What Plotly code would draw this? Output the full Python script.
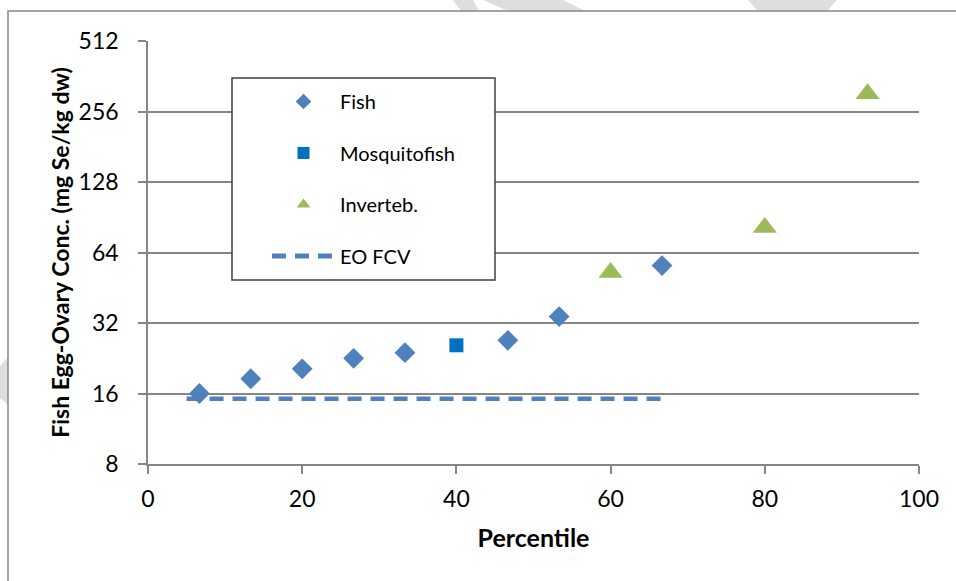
import plotly.graph_objects as go

# Data
fish_x = [6.67, 13.33, 20.0, 26.67, 33.33, 46.67, 53.33, 66.67]
fish_y = [16.0, 18.5, 20.4, 22.6, 23.9, 27.0, 34.1, 56.3]
mosq_x = [40.0]
mosq_y = [25.7]
inv_x = [60.0, 80.0, 93.33]
inv_y = [52.6, 81.9, 305.0]
fcv_x = [5.0, 66.67]
fcv_y = [15.2, 15.2]
y_ticks = [8, 16, 32, 64, 128, 256, 512]
x_ticks = [0, 20, 40, 60, 80, 100]

FONT = "Lato"
W, H = 956, 581
L, R, T, B = 148, 37, 41, 117
pw, ph = W - L - R, H - T - B

def px(xp):
    return (xp - L) / pw

def py(yp):
    return (H - B - yp) / ph

def poly(pts):
    d = "M " + " L ".join(f"{px(a):.5f},{py(b):.5f}" for a, b in pts) + " Z"
    return dict(type="path", xref="paper", yref="paper", path=d,
                fillcolor="#DEDEDE", line=dict(width=0), layer="below")

fig = go.Figure()
fig.add_trace(go.Scatter(x=fish_x, y=fish_y, mode="markers", name="Fish", legendgroup="a",
                         marker=dict(symbol="diamond", size=16, color="#4F81BD")))
fig.add_trace(go.Scatter(x=mosq_x, y=mosq_y, mode="markers", name="Mosquitofish", legendgroup="b",
                         marker=dict(symbol="square", size=14, color="#0070C0")))
fig.add_trace(go.Scatter(x=inv_x, y=inv_y, mode="markers", name="Inverteb.", legendgroup="c",
                         marker=dict(symbol="triangle-up", size=21, color="#9BBB59")))
fig.add_trace(go.Scatter(x=fcv_x, y=fcv_y, mode="lines", name="EO FCV", legendgroup="d",
                         line=dict(color="#4F81BD", width=4.5, dash="14px,9px")))

fig.update_layout(
    width=W, height=H,
    margin=dict(l=L, r=R, t=T, b=B),
    paper_bgcolor="white", plot_bgcolor="white",
    font=dict(family=FONT, size=23, color="#000000"),
    showlegend=True,
    legend=dict(x=px(267), y=py(82), xanchor="left", yanchor="top",
                bgcolor="rgba(0,0,0,0)", borderwidth=0,
                font=dict(family=FONT, size=20, color="#000000"),
                tracegroupgap=22.5, itemsizing="constant", itemwidth=63),
    xaxis=dict(range=[0, 100], tickvals=x_ticks, showgrid=False, zeroline=False,
               showline=True, linecolor="#868686", linewidth=1.5,
               ticks="outside", ticklen=8, tickcolor="#868686", tickwidth=1.5,
               ticklabelstandoff=6,
               tickfont=dict(family=FONT, size=23),
               title=dict(text="<b>Percentile</b>", font=dict(family=FONT, size=25), standoff=18)),
    yaxis=dict(type="log", range=[0.90309, 2.70927], tickvals=y_ticks,
               ticktext=[str(v) for v in y_ticks],
               showgrid=True, gridcolor="#868686", gridwidth=1.5, zeroline=False,
               showline=True, linecolor="#868686", linewidth=1.5,
               ticks="outside", ticklen=8, tickcolor="#868686", tickwidth=1.5,
               ticklabelstandoff=15,
               tickfont=dict(family=FONT, size=23),
               title=dict(text="<b>Fish Egg-Ovary Conc. (mg Se/kg dw)</b>",
                          font=dict(family=FONT, size=23), standoff=3)),
    shapes=[
        poly([(453, 0), (473, 0), (479, 11), (461, 11)]),
        poly([(483, 0), (563, 0), (585, 11), (508, 11)]),
        poly([(748, 0), (837, 0), (827, 11), (758, 11)]),
        poly([(0, 366), (8, 357), (8, 405), (0, 398)]),
        dict(type="rect", xref="paper", yref="paper", x0=px(8), x1=px(1000), y0=py(620), y1=py(11),
             line=dict(color="#868686", width=1.5), fillcolor="white", layer="below"),
        dict(type="rect", xref="paper", yref="paper", x0=px(232), x1=px(495), y0=py(280), y1=py(78),
             line=dict(color="#404040", width=1.5), fillcolor="white", layer="above"),
    ],
)

fig.write_html("out.html", config={"displayModeBar": False},
               post_script="document.body.style.margin='0';")
